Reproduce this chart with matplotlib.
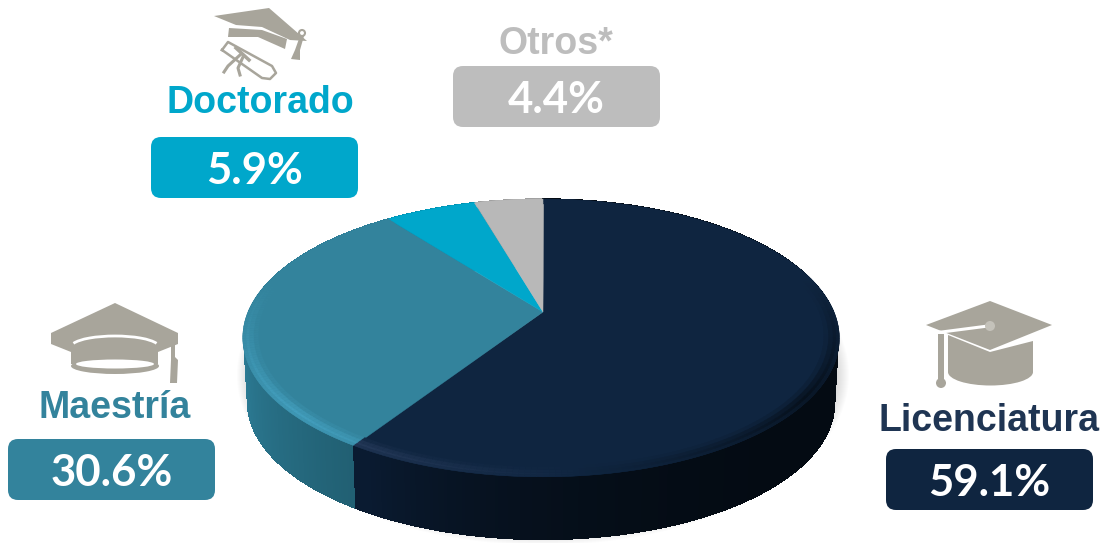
import numpy as np
import matplotlib
matplotlib.use('Agg')
import matplotlib.pyplot as plt
from matplotlib.patches import Polygon, FancyBboxPatch, Circle, Ellipse, Arc
from matplotlib.collections import PolyCollection
from matplotlib.colors import to_rgb

categories = ['Licenciatura', 'Maestría', 'Doctorado', 'Otros*']
shares = [59.1, 30.6, 5.9, 4.4]
value_labels = ['59.1%', '30.6%', '5.9%', '4.4%']
colors = ['#0F2540', '#33839C', '#00A7CB', '#B8B8B8']
wall_dark = ['#040B13', '#215F72', '#007F9C', '#8C8C8C']
wall_light = ['#0A1B31', '#2E7F99', '#0090B0', '#A0A0A0']
rim_light = ['#34476A', '#47A6C6', '#30BADA', '#CCCCCC']
label_colors = ['#1F3553', '#33839C', '#00A7CB', '#BDBDBD']

# pixel layout of the labels: x of box, y of box, y of the caption, x of the caption
boxes = [(886, 449, 421, 989), (8, 439, 408, 115), (151, 137, 103, 260), (453, 66, 44, 556)]
icon_col = '#A8A59B'

CX, CY = 543, 312
A, B, K = 293, 134, 0.187
DEPTH = 65


def project(ang, r=1.0, dy=0.0, scale=1.0):
    # ang in degrees clockwise from 12 o'clock, simple perspective tilt
    t = np.radians(ang)
    u = r * np.sin(t)
    v = r * np.cos(t)
    d = 1 + K * v
    return CX - 2 * r * np.sin(t) ** 2 + scale * A * u / d, CY + dy + scale * B * v * -1 / d


def mix(c1, c2, f):
    c1, c2 = np.array(to_rgb(c1)), np.array(to_rgb(c2))
    return tuple(c1 + (c2 - c1) * f)


fig = plt.figure(figsize=(11.02, 5.43), dpi=100)
ax = fig.add_axes([0, 0, 1, 1])
ax.set_xlim(0, 1102)
ax.set_ylim(543, 0)
ax.axis('off')

# soft shadow under the pie
for i in range(14):
    ax.add_patch(Ellipse((CX, 375), 2 * (A + 13 - i), 2 * (B + 36 - i), facecolor='#808080',
                         alpha=0.022, edgecolor='none', zorder=1))

cum = np.cumsum(shares) / np.sum(shares) * 360
starts = np.concatenate([[0], cum[:-1]])


def slice_index(a):
    return min(int(np.searchsorted(cum, a, side='right')), len(shares) - 1)


# wall, back to front
angs = np.arange(0, 360, 0.5)
order = np.argsort(np.cos(np.radians(angs + 0.25)))[::-1]
polys, cols = [], []
for a in angs[order]:
    p0 = project(a, 0.995)
    p1 = project(a + 0.5, 0.995)
    p2 = project(a + 0.5, 1.0, DEPTH, 0.982)
    p3 = project(a, 1.0, DEPTH, 0.982)
    polys.append([p0, p1, p2, p3])
    i = slice_index(a + 0.25)
    f = np.clip((a - 120) / 90, 0, 1)
    if i == 0:
        c = mix(wall_dark[0], wall_light[0], f ** 3)
    else:
        c = mix(wall_dark[i], wall_light[i], np.clip((a - 212) / 50, 0, 1))
    cols.append(c)
ax.add_collection(PolyCollection(polys, facecolors=cols, edgecolors=cols, linewidths=1.2,
                                 antialiaseds=False, zorder=2))

# top of the pie, one polygon per slice
for i in range(len(shares)):
    th = np.arange(starts[i], cum[i] + 0.25, 0.5)
    x, y = project(th)
    ax.add_patch(Polygon(np.column_stack([np.r_[CX, x], np.r_[CY, y]]), closed=True,
                         facecolor=colors[i], edgecolor=colors[i], linewidth=0.3, zorder=3))

# bevel round the edge: bright in the lower left, dark in the lower right
polys, cols = [], []
for a in np.arange(0, 360, 1.0):
    i = slice_index(a + 0.5)
    light = np.clip(1 - abs(a - 228) / 55, 0, 1)
    dark = np.clip(1 - abs(a - 125) / 50, 0, 1)
    for r0, r1, e in [(0.95, 0.965, 0.25), (0.965, 0.98, 0.7), (0.98, 0.99, 1.0), (0.99, 1.0, 0.7)]:
        polys.append([project(a, r0), project(a + 1, r0), project(a + 1, r1), project(a, r1)])
        c = mix(colors[i], rim_light[i], light * e * 0.8)
        c = mix(c, wall_dark[i], dark * e * 0.8)
        cols.append(c)
ax.add_collection(PolyCollection(polys, facecolors=cols, edgecolors=cols, linewidths=0.3, zorder=4))


def poly(pts, **kw):
    ax.add_patch(Polygon(pts, closed=True, facecolor=kw.get('fc', icon_col), edgecolor='none', zorder=6))


# Licenciatura cap
poly([(948, 335), (990, 352), (1033, 341), (1033, 372), (948, 372)])
ax.add_patch(Ellipse((990.5, 372), 85, 27, fc=icon_col, ec='none', zorder=6))
poly([(990, 301), (1052, 325), (990, 350), (926, 325)])
ax.plot([934, 988], [333, 326], color='white', lw=2.2, zorder=7)
poly([(938, 334), (944, 334), (944, 380), (938, 380)])
ax.add_patch(Circle((990, 326), 5, fc='#C4C2BA', ec='none', zorder=8))
ax.add_patch(Circle((941, 383), 5, fc=icon_col, ec='none', zorder=8))

# Maestria cap
poly([(115, 303), (178, 333), (178, 344), (158, 352), (158, 364), (71, 364), (71, 352), (51, 344), (51, 333)])
ax.add_patch(Ellipse((115, 366), 88, 16, fc=icon_col, ec='none', zorder=6))
ax.add_patch(Arc((115, 347), 88, 22, theta1=185, theta2=355, color='white', lw=2, zorder=7))
ax.add_patch(Ellipse((115, 364), 78, 9, fc='white', ec='none', zorder=7))
poly([(171, 345), (175, 345), (175, 357), (178, 360), (177, 383), (170, 383), (171, 360)])

# Doctorado cap and diploma
poly([(214, 16), (269, 8), (307, 41), (290, 40), (262, 27), (236, 25)])
poly([(229, 28), (262, 30), (287, 39), (285, 49), (258, 37), (228, 37)])
poly([(300, 36), (304, 36), (300, 50), (300, 60), (291, 59), (295, 50)])
ax.add_patch(Circle((302, 33), 3, fc='white', ec=icon_col, lw=1.5, zorder=7))
dx = [222, 228, 272, 276, 270, 262, 222]
dy = [50, 42, 66, 73, 79, 78, 50]
ax.plot(dx, dy, color=icon_col, lw=1.8, zorder=6)
ax.plot([240, 228, 224], [55, 66, 72], color=icon_col, lw=2.2, zorder=6)
ax.plot([243, 238, 240], [57, 68, 75], color=icon_col, lw=2.2, zorder=6)
ax.plot([236, 249], [48, 60], color=icon_col, lw=2.5, zorder=6)

# captions and value boxes
for i in range(len(categories)):
    bx, by, ty, tx = boxes[i]
    ax.add_patch(FancyBboxPatch((bx + 10, by + 10), 187, 41, boxstyle='round,pad=10,rounding_size=10',
                                facecolor=colors[i] if i != 3 else '#BDBDBD', edgecolor='none', zorder=5))
    ax.text(bx + 103.5, by + 34, value_labels[i], color='white', fontsize=31.5, fontweight='bold',
            family='Lato', ha='center', va='center', zorder=6)
    ax.text(tx, ty, categories[i], color=label_colors[i], fontsize=27,
            fontweight='bold', family='Liberation Sans', ha='center', va='center', zorder=6)

fig.savefig('out.png', dpi=100)
